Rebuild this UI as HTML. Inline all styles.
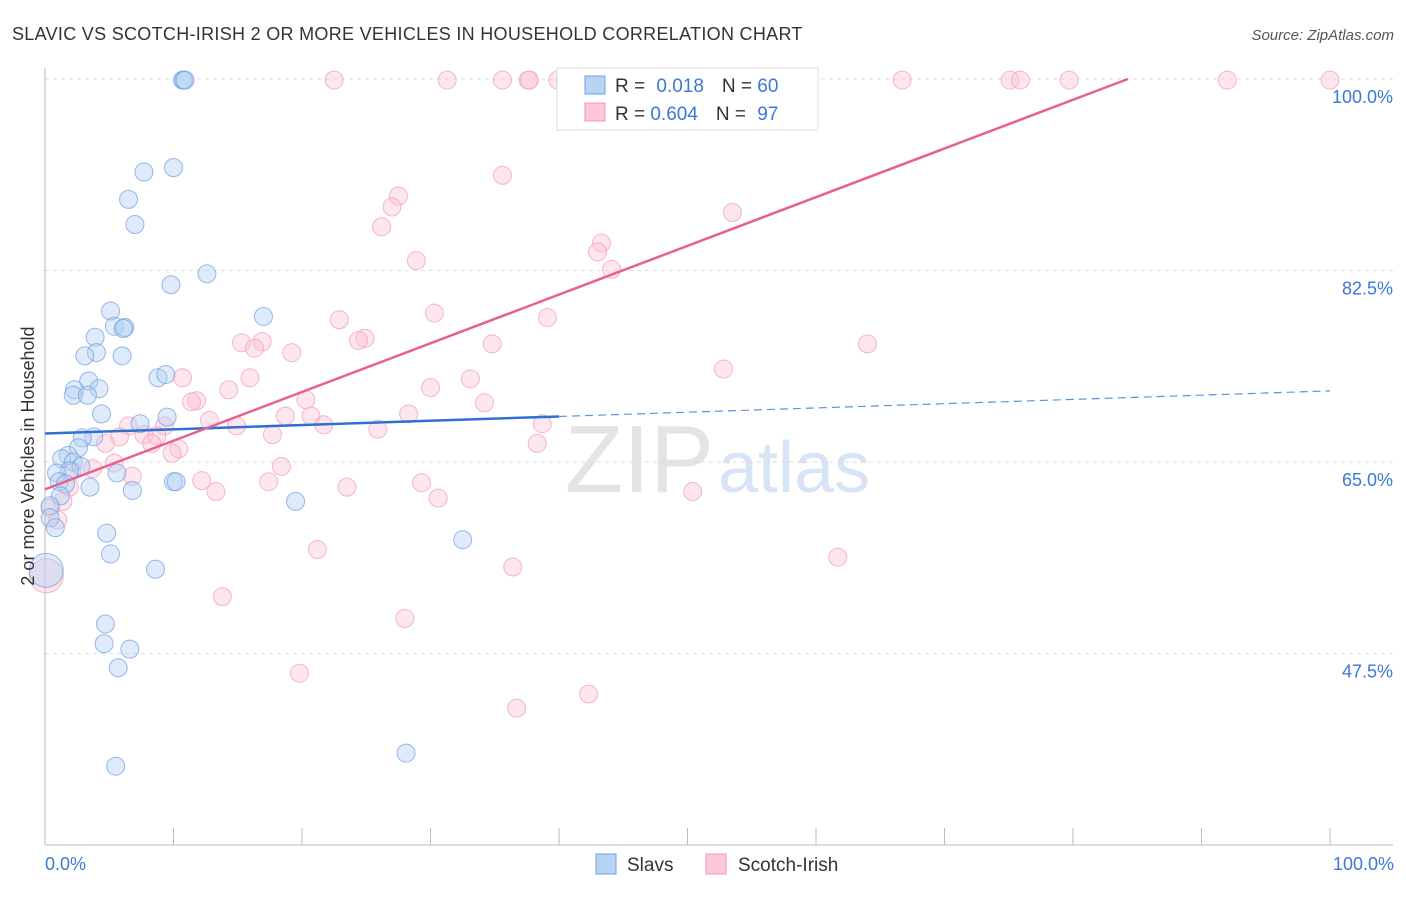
<!DOCTYPE html>
<html><head><meta charset="utf-8"><style>
body{margin:0;background:#fff;font-family:"Liberation Sans",sans-serif;}
svg text{font-family:"Liberation Sans",sans-serif;}
</style></head><body>
<svg id="chart" width="1406" height="892" xmlns="http://www.w3.org/2000/svg">
<text x="12" y="40" font-size="18" fill="#333" letter-spacing="0.3">SLAVIC VS SCOTCH-IRISH 2 OR MORE VEHICLES IN HOUSEHOLD CORRELATION CHART</text>
<text x="1394" y="40" font-size="15" fill="#555" text-anchor="end" font-style="italic">Source: ZipAtlas.com</text>
<text x="714" y="492" font-size="96" text-anchor="end" fill="#e4e4e4" font-family="Liberation Serif">ZIP</text>
<text x="718" y="492" font-size="72" fill="#d6e4f5">atlas</text>
<g id="grid"></g><g id="axes"></g><g id="marks"></g><g id="trends"></g>
<text transform="translate(34,456) rotate(-90)" font-size="18" fill="#333" text-anchor="middle">2 or more Vehicles in Household</text>
<text x="45" y="870" font-size="18" fill="#3b78d8">0.0%</text>
<text x="1394" y="870" font-size="18" fill="#3b78d8" text-anchor="end">100.0%</text>
<g>
<rect x="557" y="68" width="261" height="62" fill="#fff" stroke="#ddd"/>
<rect x="585" y="76" width="20" height="18" fill="#b8d4f5" stroke="#6fa1e6"/>
<rect x="585" y="103" width="20" height="18" fill="#fcc8d8" stroke="#f097b5"/>
<text x="615" y="92" font-size="19" fill="#333">R = <tspan fill="#3b78d8" dx="6">0.018</tspan><tspan dx="18" fill="#333">N = </tspan><tspan fill="#3b78d8">60</tspan></text>
<text x="615" y="120" font-size="19" fill="#333">R = <tspan fill="#3b78d8">0.604</tspan><tspan dx="18" fill="#333">N = </tspan><tspan fill="#3b78d8" dx="6">97</tspan></text>
</g>
<g>
<rect x="596" y="854" width="20" height="20" fill="#b8d4f5" stroke="#6fa1e6"/>
<text x="627" y="871" font-size="19" fill="#333">Slavs</text>
<rect x="706" y="854" width="20" height="20" fill="#fcc8d8" stroke="#f097b5"/>
<text x="738" y="871" font-size="19" fill="#333">Scotch-Irish</text>
</g>
</svg>
<script>
const yTicks=[100,82.5,65,47.5];
const yTickLabels=["100.0%","82.5%","65.0%","47.5%"];
const xTicks=[0,10,20,30,40,50,60,70,80,90,100];
const slavX=[10.7,10.8,10.9,7.7,10.0,6.5,7.0,12.6,9.8,5.1,17.0,5.4,6.2,6.1,3.9,4.0,3.1,6.0,8.8,9.4,3.4,2.3,4.2,2.2,3.3,4.4,9.5,7.4,3.8,2.9,2.6,1.8,1.3,2.2,2.8,1.9,0.9,5.6,1.1,1.6,3.5,10.0,10.2,6.8,1.2,19.5,0.4,0.4,0.8,4.8,32.5,5.1,8.6,0.1,4.7,4.6,6.6,5.7,28.1,5.5];
const slavY=[99.9,99.9,99.9,91.5,91.9,89.0,86.7,82.2,81.2,78.8,78.3,77.4,77.3,77.2,76.4,75.0,74.7,74.7,72.7,73.0,72.4,71.6,71.7,71.1,71.1,69.4,69.1,68.5,67.3,67.2,66.3,65.6,65.3,65.0,64.6,64.2,64.0,64.0,63.2,63.0,62.7,63.2,63.2,62.4,61.9,61.4,61.0,59.9,59.0,58.5,57.9,56.6,55.2,55.1,50.2,48.4,47.9,46.2,38.4,37.2];
const slavBig=[53];
const scotX=[22.5,31.3,35.6,37.6,37.7,39.9,40.5,46.1,51.9,56.3,66.7,75.1,75.9,79.7,92.0,100.0,35.6,27.5,27.0,53.5,26.2,43.3,43.0,28.9,44.1,30.3,39.1,22.9,24.9,24.4,15.3,16.9,16.3,64.0,34.8,19.2,52.8,10.7,15.95,33.1,30.0,14.3,11.8,11.4,20.3,34.2,28.3,18.7,20.7,12.8,6.5,14.9,21.7,9.3,38.7,25.9,7.7,5.8,8.7,17.7,8.3,4.7,38.3,10.4,9.9,5.4,18.4,3.7,2.1,6.8,12.2,17.4,29.3,23.5,1.9,13.3,50.4,30.6,1.4,0.4,1.0,21.2,61.7,36.4,0.1,13.8,28.0,19.8,42.3,36.7];
const scotY=[99.9,99.9,99.9,99.9,99.9,99.9,99.9,99.9,99.9,99.9,99.9,99.9,99.9,99.9,99.9,99.9,91.2,89.3,88.3,87.8,86.5,85.0,84.2,83.4,82.6,78.6,78.2,78.0,76.3,76.1,75.9,76.0,75.4,75.8,75.8,75.0,73.5,72.7,72.7,72.6,71.8,71.6,70.6,70.5,70.7,70.4,69.4,69.2,69.2,68.8,68.3,68.3,68.4,68.3,68.5,68.0,67.5,67.3,67.4,67.5,66.7,66.7,66.7,66.2,65.8,64.9,64.6,64.4,64.2,63.7,63.3,63.2,63.1,62.7,62.7,62.3,62.3,61.7,61.4,60.8,59.7,57.0,56.3,55.4,54.6,52.7,50.7,45.7,43.8,42.5];
const scotBig=[84];
const slavTrend=[67.6,71.5];
const scotTrend=[62.5,0.445];
const X0=45,X1=1330,YT=79,YB=845,YMIN=30,YMAX=100;
const sx=v=>X0+(v/100)*(X1-X0);
const sy=v=>YT+(YMAX-v)/(YMAX-YMIN)*(YB-YT);
const NS="http://www.w3.org/2000/svg";
function mk(t,a,p){const e=document.createElementNS(NS,t);for(const k in a)e.setAttribute(k,a[k]);p.appendChild(e);return e;}
const grid=document.getElementById('grid'),axes=document.getElementById('axes'),marks=document.getElementById('marks'),trends=document.getElementById('trends');
yTicks.forEach((v,i)=>{
 const l=mk('line',{x1:45,x2:1393,y1:sy(v),y2:sy(v),stroke:'#ddd','stroke-dasharray':'4,4'},grid);
 
 
 const t=mk('text',{x:1393,y:sy(v)+24,'font-size':18,fill:'#3b78d8','text-anchor':'end'},grid);
 t.textContent=yTickLabels[i];
 
 
});
const ya=mk('line',{x1:45,x2:45,y1:68,y2:845,stroke:'#bbb'},axes);


const xa=mk('line',{x1:45,x2:1393,y1:845,y2:845,stroke:'#bbb'},axes);


xTicks.forEach(v=>{
 const t=mk('line',{x1:sx(v),x2:sx(v),y1:828,y2:845,stroke:'#bbb'},axes);
 
 
});
function pts(X,Y,big,fill,stroke,name){
 X.forEach((x,i)=>{
  const r=big.includes(i)?17:9;
  const c=mk('circle',{cx:sx(x),cy:sy(Y[i]),r:r,fill:fill,'fill-opacity':0.42,stroke:stroke,'stroke-opacity':0.7,'stroke-width':1},marks);
  
  
 });
}
pts(scotX,scotY,scotBig,'#fbc3d4','#f09ab8','scotch-irish-point');
pts(slavX,slavY,slavBig,'#b3d0f4','#6a9de2','slavs-point');
const b1=mk('line',{x1:sx(0),y1:sy(slavTrend[0]),x2:sx(40),y2:sy(slavTrend[0]+0.4*(slavTrend[1]-slavTrend[0])),stroke:'#2f6fd0','stroke-width':2.5},trends);


const b2=mk('line',{x1:sx(40),y1:sy(slavTrend[0]+0.4*(slavTrend[1]-slavTrend[0])),x2:sx(100),y2:sy(slavTrend[1]),stroke:'#5b93e0','stroke-width':1.2,'stroke-dasharray':'8,5'},trends);


const xe=(100-scotTrend[0])/scotTrend[1];
const p1=mk('line',{x1:sx(0),y1:sy(scotTrend[0]),x2:sx(xe),y2:sy(100),stroke:'#e8608f','stroke-width':2.5},trends);


</script>
</body></html>
